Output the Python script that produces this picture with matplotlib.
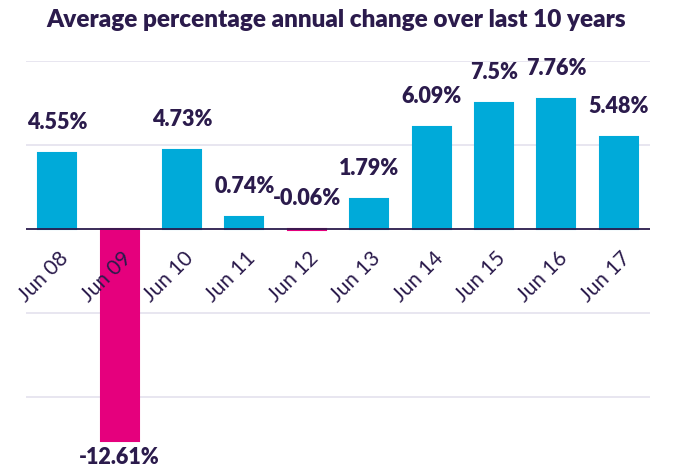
import matplotlib
matplotlib.use("Agg")
import matplotlib.pyplot as plt

# data
years = ["Jun 08", "Jun 09", "Jun 10", "Jun 11", "Jun 12",
         "Jun 13", "Jun 14", "Jun 15", "Jun 16", "Jun 17"]
changes = [4.55, -12.61, 4.73, 0.74, -0.06, 1.79, 6.09, 7.5, 7.76, 5.48]
labels = ["4.55%", "-12.61%", "4.73%", "0.74%", "-0.06%",
          "1.79%", "6.09%", "7.5%", "7.76%", "5.48%"]

POS = "#00AAD9"
NEG = "#E5007D"
INK = "#2B1B4C"
GRID = "#E4E2EE"

plt.rcParams["font.family"] = ["Lato", "DejaVu Sans"]

fig = plt.figure(figsize=(6.73, 4.68), dpi=100)
ax = fig.add_axes([26 / 673, 0.0, 624 / 673, 1 - 61 / 468])

x = range(len(years))
colors = [POS if v >= 0 else NEG for v in changes]
# thin edge keeps the tiny -0.06 bar visible, as in the reference
ax.bar(x, changes, width=0.61, color=colors, edgecolor=colors, lw=1.5, zorder=2)

ax.set_xlim(-0.5, len(years) - 0.5)
ax.set_ylim(-14.2, 10)

for g in [10, 5, -5, -10]:
    ax.axhline(g, color=GRID, lw=1.2, zorder=0)
ax.axhline(0, color=INK, lw=1.3, zorder=3)

for i, (v, lab) in enumerate(zip(changes, labels)):
    if v >= -1:
        ax.annotate(lab, (i, max(v, 0)), xytext=(0, 22), textcoords="offset points",
                    ha="center", va="center", fontsize=15.5, fontweight="heavy", color=INK)
    else:
        ax.annotate(lab, (i, v), xytext=(0, -11.5), textcoords="offset points",
                    ha="center", va="center", fontsize=15.5, fontweight="heavy", color=INK)

# rotated category labels just under the zero line
for i, yr in enumerate(years):
    ax.annotate(yr, (i, 0), xytext=(6, -19), textcoords="offset points",
                ha="right", va="center", rotation=45, rotation_mode="anchor",
                fontsize=15, color=INK, zorder=4)

ax.set_xticks([])
ax.set_yticks([])
for s in ax.spines.values():
    s.set_visible(False)

fig.text(0.5, 0.958, "Average percentage annual change over last 10 years",
         ha="center", va="center", fontsize=17.5, fontweight="heavy", color=INK)

fig.savefig("out.png", dpi=100)
